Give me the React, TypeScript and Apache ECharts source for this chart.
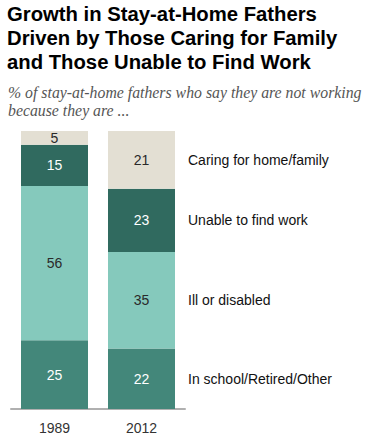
import React, { useEffect, useRef } from "react";
import * as echarts from "echarts";

const years = ["1989", "2012"];
const seriesNames = ["In school/Retired/Other", "Ill or disabled", "Unable to find work", "Caring for home/family"];
const school = [25, 22];
const ill = [56, 35];
const unable = [15, 23];
const caring = [5, 21];
const titleText = "Growth in Stay-at-Home Fathers\nDriven by Those Caring for Family\nand Those Unable to Find Work";
const subtitleText = "% of stay-at-home fathers who say they are not working\nbecause they are ...";

const colors = ["#43877a", "#85c9bc", "#306a5f", "#e3dfd3"];
const labelColors = ["#ffffff", "#2a2a2a", "#ffffff", "#2a2a2a"];

export default function App() {
  const ref = useRef<HTMLDivElement>(null);
  useEffect(() => {
    document.body.style.margin = "0";
    const chart = echarts.init(ref.current!, null, { renderer: "svg" });
    const values = [school, ill, unable, caring];
    const barSeries = values.map((v, i) => ({
      type: "bar",
      name: seriesNames[i],
      stack: "total",
      xAxisIndex: 0,
      yAxisIndex: 0,
      data: v,
      barWidth: 67,
      silent: true,
      itemStyle: { color: colors[i] },
      label: {
        show: true,
        position: "inside",
        color: labelColors[i],
        fontFamily: "Liberation Sans, Arial, sans-serif",
        fontSize: 14,
      },
    }));
    const labelSeries = values.map((v, i) => ({
      type: "bar",
      name: seriesNames[i] + " label",
      stack: "labels",
      xAxisIndex: 1,
      yAxisIndex: 1,
      data: [v[1]],
      barWidth: "100%",
      silent: true,
      itemStyle: { color: "rgba(0,0,0,0)" },
      label: {
        show: true,
        position: "insideLeft",
        distance: 3,
        formatter: seriesNames[i],
        color: "#111111",
        fontFamily: "Liberation Sans, Arial, sans-serif",
        fontSize: 14,
      },
    }));
    chart.setOption({
      animation: false,
      backgroundColor: "#ffffff",
      title: [
        {
          text: titleText,
          left: 7,
          top: 2,
          padding: 0,
          textStyle: {
            fontFamily: "Liberation Sans, Arial, sans-serif",
            fontWeight: "bold",
            fontSize: 20.3,
            lineHeight: 24,
            color: "#000000",
          },
        },
        {
          text: subtitleText,
          left: 8,
          top: 83,
          padding: 0,
          textStyle: {
            fontFamily: "Liberation Serif, serif",
            fontStyle: "italic",
            fontWeight: "normal",
            fontSize: 15.8,
            lineHeight: 18,
            color: "#555555",
          },
        },
      ],
      grid: [
        { left: 11, width: 174, top: 131, height: 278 },
        { left: 185, width: 180, top: 131, height: 278 },
      ],
      xAxis: [
        {
          type: "category",
          gridIndex: 0,
          data: years,
          axisLine: { lineStyle: { color: "#b0b0b0", width: 2 } },
          axisTick: { show: false },
          axisLabel: {
            color: "#333333",
            fontFamily: "Liberation Sans, Arial, sans-serif",
            fontSize: 14,
            margin: 12,
          },
        },
        { type: "category", gridIndex: 1, data: [""], show: false },
      ],
      yAxis: [
        { type: "value", gridIndex: 0, min: 0, max: 101, show: false },
        { type: "value", gridIndex: 1, min: 0, max: 101, show: false },
      ],
      series: [...barSeries, ...labelSeries],
    });
    return () => chart.dispose();
  }, []);
  return <div ref={ref} style={{ width: 370, height: 444 }} />;
}
